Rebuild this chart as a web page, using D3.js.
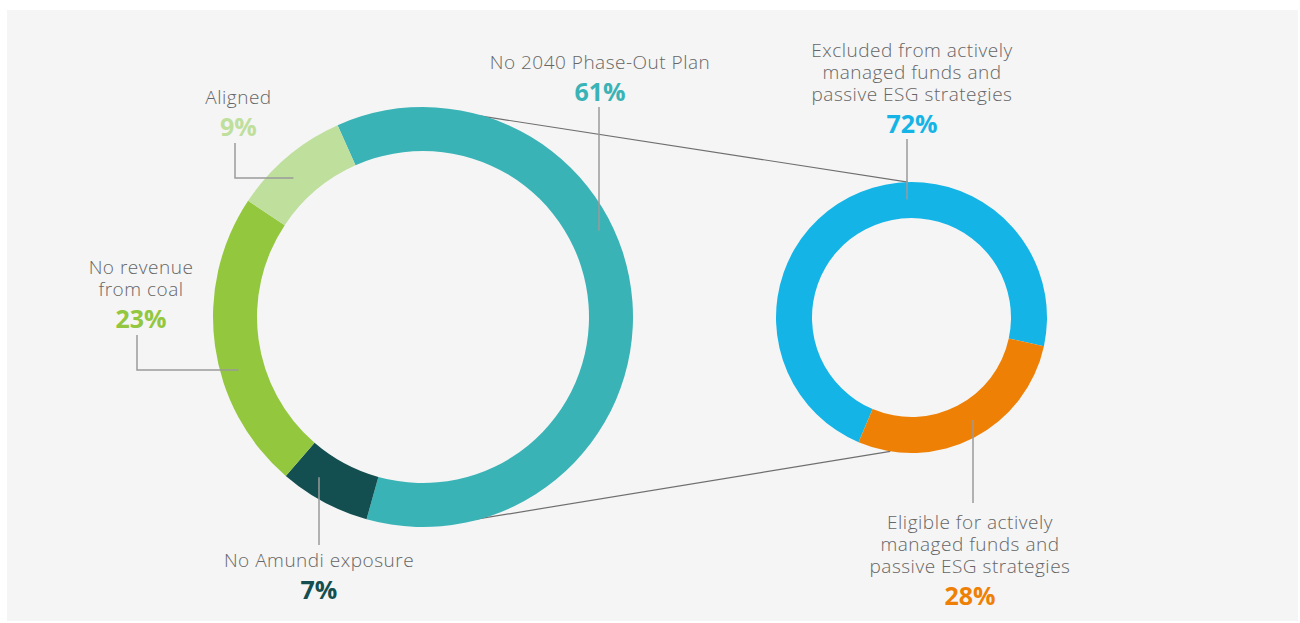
<!DOCTYPE html>
<html>
<head>
<meta charset="utf-8">
<script src="https://cdn.jsdelivr.net/npm/d3@7"></script>
<style>
    html, body { margin: 0; padding: 0; background: #ffffff; }
    svg { display: block; }
</style>
</head>
<body>
<div id="chart"></div>
<script>
// Breakdown of coal exposure (big ring)
const mainCategories = ["No 2040 Phase-Out Plan", "No Amundi exposure", "No revenue from coal", "Aligned"];
const mainValues = [61, 7, 23, 9];
const mainColors = ["#3ab3b6", "#134f50", "#93c73e", "#bfdf9d"];

// Split of the "No 2040 Phase-Out Plan" slice (small ring)
const splitCategories = [
    "Excluded from actively managed funds and passive ESG strategies",
    "Eligible for actively managed funds and passive ESG strategies"
];
const splitValues = [72, 28];
const splitColors = ["#14b4e6", "#ef8006"];

const width = 1300, height = 623;
const rad = deg => deg * Math.PI / 180;

const svg = d3.select("#chart")
    .append("svg")
    .attr("width", width)
    .attr("height", height);

// Grey panel
svg.append("rect")
    .attr("x", 7).attr("y", 10)
    .attr("width", width - 9).attr("height", 611)
    .attr("fill", "#f5f5f5");

// Ring geometry
const big = { cx: 423, cy: 317, outer: 210, inner: 166, start: -24 };
const small = { cx: 911.5, cy: 317.5, outer: 135.5, inner: 99.5, start: 203 };

// Connector lines between the two rings (drawn first, under the rings)
const polar = (ring, deg, r) => [ring.cx + r * Math.sin(rad(deg)), ring.cy - r * Math.cos(rad(deg))];
const connectors = [
    [polar(big, 15.8, big.outer - 1), polar(small, -1.5, small.outer)],
    [polar(big, 165.6, big.outer - 1), polar(small, 189, small.outer)]
];
svg.append("g")
    .selectAll("line")
    .data(connectors)
    .join("line")
    .attr("x1", d => d[0][0]).attr("y1", d => d[0][1])
    .attr("x2", d => d[1][0]).attr("y2", d => d[1][1])
    .attr("stroke", "#6f6f6f")
    .attr("stroke-width", 1.2);

function drawRing(ring, values, colors) {
    const pie = d3.pie()
        .sort(null)
        .value(d => d)
        .startAngle(rad(ring.start))
        .endAngle(rad(ring.start) + 2 * Math.PI);
    const arc = d3.arc().innerRadius(ring.inner).outerRadius(ring.outer);
    svg.append("g")
        .attr("transform", `translate(${ring.cx},${ring.cy})`)
        .selectAll("path")
        .data(pie(values))
        .join("path")
        .attr("d", arc)
        .attr("fill", (d, i) => colors[i]);
}

drawRing(big, mainValues, mainColors);
drawRing(small, splitValues, splitColors);

// Label layout: text lines are centred on x; leader runs from the text down to the ring
// kind "v": vertical leader at x down to radius lr; kind "elbow": down to y, then across to radius lr
const labelLayout = [
    { ring: big, i: 0, x: 600, y: 69, kind: "v", lx: 599, top: 107, lr: 196, below: false },
    { ring: big, i: 1, x: 319, y: 567, kind: "v", top: 545, lr: 191, below: true },
    { ring: big, i: 2, x: 141, y: 274, kind: "elbow", lx: 137, top: 335, ly: 370, lr: 192, lines: ["No revenue", "from coal"] },
    { ring: big, i: 3, x: 238.5, y: 104, kind: "elbow", lx: 235, top: 143, ly: 178, lr: 190 },
    { ring: small, i: 0, x: 912, y: 57, kind: "v", lx: 907, top: 139, lr: 118, lines: ["Excluded from actively", "managed funds and", "passive ESG strategies"] },
    { ring: small, i: 1, x: 970, y: 529, kind: "v", lx: 973, top: 503, lr: 119.5, below: true, lines: ["Eligible for actively", "managed funds and", "passive ESG strategies"] }
];

const lineGap = 22;
const leaders = svg.append("g")
    .attr("fill", "none")
    .attr("stroke", "#9a9a9a")
    .attr("stroke-width", 1.5);
const labels = svg.append("g");

labelLayout.forEach(l => {
    const isMain = l.ring === big;
    const cats = isMain ? mainCategories : splitCategories;
    const vals = isMain ? mainValues : splitValues;
    const cols = isMain ? mainColors : splitColors;
    const lines = l.lines || [cats[l.i]];
    const lx = l.lx !== undefined ? l.lx : l.x;

    // Leader path
    let pts;
    if (l.kind === "v") {
        const dx = lx - l.ring.cx;
        const dy = Math.sqrt(l.lr * l.lr - dx * dx);
        const yEnd = l.below ? l.ring.cy + dy : l.ring.cy - dy;
        pts = [[lx, l.top], [lx, yEnd]];
    } else {
        const dy = l.ly - l.ring.cy;
        const xEnd = l.ring.cx - Math.sqrt(l.lr * l.lr - dy * dy);
        pts = [[lx, l.top], [lx, l.ly], [xEnd, l.ly]];
    }
    leaders.append("path").attr("d", d3.line()(pts));

    // Category text
    lines.forEach((t, k) => {
        labels.append("text")
            .attr("x", l.x)
            .attr("y", l.y + k * lineGap)
            .attr("text-anchor", "middle")
            .attr("fill", "#666666")
            .attr("style", "font-family: 'Open Sans', sans-serif; font-weight: 300; font-size: 19px; letter-spacing: 0.5px;")
            .text(t);
    });

    // Percentage
    labels.append("text")
        .attr("x", l.x)
        .attr("y", l.y + (lines.length - 1) * lineGap + 31.5)
        .attr("text-anchor", "middle")
        .attr("fill", cols[l.i])
        .attr("style", "font-family: 'Open Sans', sans-serif; font-weight: 700; font-size: 25px;")
        .text(vals[l.i] + "%");
});
</script>
</body>
</html>
